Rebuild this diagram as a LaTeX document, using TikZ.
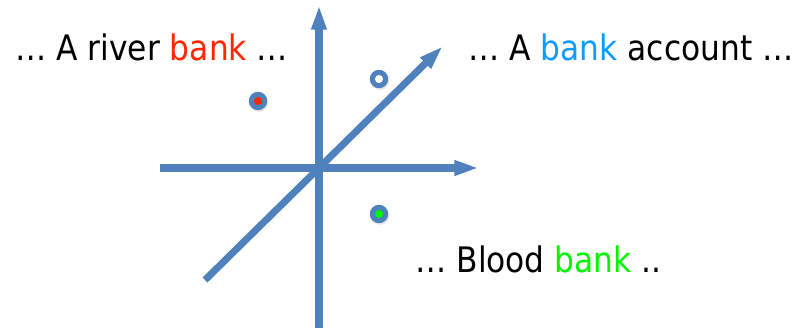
\documentclass[tikz,border=0pt]{standalone}
\usepackage{fontspec}
\setmainfont{DejaVu Sans}
\usepackage{graphicx}
\usetikzlibrary{arrows.meta,shadows}

\definecolor{axisblue}{RGB}{79,129,189}
\definecolor{riverred}{RGB}{255,38,0}
\definecolor{moneyblue}{RGB}{15,155,255}
\definecolor{bloodgreen}{RGB}{0,245,0}

\tikzset{
  axis/.style={line width=4pt, axisblue, -{Triangle[length=14pt, width=8pt]}},
  sense/.style={font=\fontsize{20}{24}\selectfont, inner sep=0pt},
  wordpt/.style={circle, fill=axisblue, minimum size=10.5pt, inner sep=0pt,
    drop shadow={opacity=0.2, shadow xshift=0.6pt, shadow yshift=-0.9pt}},
}
\newcommand{\squeeze}[1]{\scalebox{0.89}[1]{#1}}

\begin{document}
\begin{tikzpicture}[x=0.02cm, y=-0.02cm]
\useasboundingbox (0,0) rectangle (797,328);

% Axes
\coordinate (left) at (160,168);
\coordinate (right) at (479,168);
\coordinate (bottom) at (319,328);
\coordinate (top) at (319,5);
\coordinate (low) at (205,280);
\coordinate (high) at (443,46);
\draw[axis] (left) -- (right);
\draw[axis] (bottom) -- (top);
\draw[axis] (low) -- (high);

% Word points
\node[wordpt] (river) at (258,101) {};
\fill[riverred] (river) circle (2.3pt);
\node[wordpt] (money) at (379,79) {};
\fill[white] (money) circle (2.3pt);
\node[wordpt] (blood) at (379,214) {};
\fill[bloodgreen] (blood) circle (2.3pt);

% Contexts
\node[sense, anchor=base west] (rivertext) at (15,60)
  {\squeeze{\dots\ A river \textcolor{riverred}{bank} \dots}};
\node[sense, anchor=base west] (moneytext) at (468,60)
  {\squeeze{\dots\ A \textcolor{moneyblue}{bank} account \dots}};
\node[sense, anchor=base west] (bloodtext) at (415,272)
  {\squeeze{\dots\ Blood \textcolor{bloodgreen}{bank} ..}};
\end{tikzpicture}
\end{document}
